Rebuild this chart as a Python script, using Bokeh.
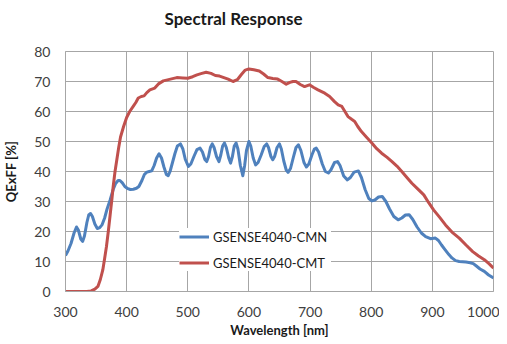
from bokeh.plotting import figure
from bokeh.models import Range1d, FixedTicker, Legend, LegendItem, Title
from bokeh.embed import file_html
from bokeh.resources import INLINE

# ---- data ----
cmn_nm = [300, 304, 309, 314, 318, 321, 325, 328, 331, 335, 338, 341, 344, 348, 352, 356, 360, 364, 368, 373,
          378, 382, 386, 389, 393, 397, 401, 406, 411, 416, 420, 425, 429, 433, 437, 441, 445, 449, 453, 457,
          461, 465, 468, 471, 475, 479, 483, 488, 492, 496, 501, 505, 510, 515, 520, 524, 528, 531, 534, 537,
          540, 543, 547, 551, 554, 557, 560, 563, 567, 570, 573, 576, 579, 582, 586, 590, 593, 596, 600, 603,
          607, 611, 615, 620, 625, 629, 632, 636, 639, 642, 646, 650, 653, 657, 661, 664, 668, 673, 677, 681,
          685, 690, 694, 698, 703, 707, 710, 714, 720, 725, 730, 734, 740, 745, 749, 755, 761, 766, 772, 779,
          784, 790, 796, 801, 806, 812, 818, 824, 830, 837, 844, 850, 856, 862, 868, 875, 882, 889, 897, 905,
          910, 915, 921, 927, 932, 938, 944, 955, 962, 967, 972, 978, 985, 992, 1000]
cmn_qe = [12, 13.5, 16, 19.5, 21.5, 20.5, 17.5, 16.7, 18.5, 23, 25.5, 26, 25, 22.5, 21, 21.3, 22.3, 24.5, 27.5, 30.5,
          34, 36, 37, 37, 36.2, 35, 34.4, 34, 34.1, 34.4, 35, 37, 39, 39.8, 40, 40.2, 42, 44.5, 45.9, 44.5,
          41.5, 39, 38.6, 40, 43, 46, 48.5, 49.2, 47.5, 44, 41.7, 42.5, 45, 47.3, 47.8, 46.5, 44, 43.3, 45, 48,
          49.2, 48, 45, 43.3, 45.5, 48.5, 49.5, 48, 44.5, 42.8, 45, 48.5, 49.5, 47.5, 42, 38.6, 42, 47, 50, 48.5,
          44.5, 42.2, 43, 45.5, 48.3, 49.2, 48, 45, 43.9, 45, 48, 49.2, 47.5, 43.5, 40.5, 39.7, 41, 45, 48, 48.9,
          47, 43, 41.5, 42.5, 45.5, 47.5, 47.8, 46.5, 42.5, 40, 39.5, 40.5, 43, 43.3, 42, 38.5, 37.2, 38, 39.8, 40.2,
          38, 34, 31, 30.2, 30.5, 31.5, 31.7, 30, 27.5, 25, 23.9, 24.5, 25.5, 25.6, 24, 21.5, 19.5, 18.3, 17.6, 17.8,
          17, 15.5, 13.9, 12.3, 11.2, 10.3, 10, 9.8, 9.6, 9.3, 8.5, 7.5, 6.7, 5.5, 4.5]

cmt_nm = [300, 320, 335, 342, 348, 353, 357, 361, 364, 367, 370, 373, 376, 378, 381, 384, 387, 390, 395, 400,
          405, 411, 415, 419, 424, 428.5, 433, 438, 446, 452, 460, 470, 482, 492, 500, 508, 515, 523, 530, 538,
          545, 552, 559, 566, 574, 581, 588, 594, 600, 608, 617, 624, 631, 639, 647, 654, 661, 667, 672, 677,
          684, 691, 699, 706, 713, 724, 732, 740, 746, 752, 757, 762, 768, 773, 778, 784, 792, 801, 809, 817,
          826, 834, 842, 850, 858, 866.5, 876, 886, 894, 902, 912, 921.5, 932, 944, 955, 966, 975, 985, 993, 1000]
cmt_qe = [0, 0, 0, 0.2, 0.8, 1.7, 4, 7.2, 11, 15, 20, 25.5, 31, 35, 40, 44, 48, 51.5, 55, 58,
          60, 61.8, 63, 64.5, 65, 65.2, 66.3, 67.2, 67.8, 69.2, 70.2, 70.7, 71.3, 71.2, 71.1, 71.6, 72.2, 72.7, 73.1, 72.7,
          72, 71.8, 71.3, 70.8, 70, 70.6, 72.4, 73.8, 74.2, 73.9, 73.5, 72.5, 71.3, 71, 70.8, 70, 69.1, 69.7, 70, 70,
          69, 68.3, 68.9, 68, 67.2, 66.1, 65, 63.3, 62.2, 61.7, 60, 58.3, 57.4, 56.7, 55, 53.3, 51.5, 49.5, 47.6, 46.1,
          44.7, 43.3, 41.8, 40, 38.1, 36.1, 34.2, 32.2, 29.6, 27.2, 24.7, 22.2, 19.8, 17.8, 15.5, 13.3, 11.9, 10.6, 9.2, 7.8]

x_ticks = [300, 400, 500, 600, 700, 800, 900, 1000]
y_ticks = [0, 10, 20, 30, 40, 50, 60, 70, 80]
series_names = ["GSENSE4040-CMN", "GSENSE4040-CMT"]

FONT = "Lato"
TXT = "#404040"
GRID = "#a6a6a6"

p = figure(frame_width=428, frame_height=240, output_backend="svg", toolbar_location=None,
           x_range=Range1d(300, 1000), y_range=Range1d(0, 80), title=None,
           min_border_left=57, min_border_right=6, min_border_top=43, min_border_bottom=45)

# spacer title (closest to frame) then the real title above it
p.add_layout(Title(text=" ", text_font_size="5px"), "above")
title = Title(text="Spectral Response", text_font=FONT, text_font_size="17px",
              text_font_style="bold", text_color="#1a1a1a", align="left", offset=99)
p.add_layout(title, "above")

for ax in (p.xaxis[0], p.yaxis[0]):
    ax.major_tick_line_color = None
    ax.minor_tick_line_color = None
    ax.axis_line_color = GRID
    ax.major_label_text_font = FONT
    ax.major_label_text_font_size = "14px"
    ax.major_label_text_color = TXT
    ax.axis_label_text_font = FONT
    ax.axis_label_text_font_size = "13px"
    ax.axis_label_text_font_style = "bold"
    ax.axis_label_text_color = "#1a1a1a"

p.xaxis.ticker = FixedTicker(ticks=x_ticks)
p.yaxis.ticker = FixedTicker(ticks=y_ticks)
p.xaxis.axis_label = "Wavelength [nm]"
p.yaxis.axis_label = "QExFF [%]"
p.xaxis.major_label_standoff = 9
p.xaxis.axis_label_standoff = 2
p.yaxis.major_label_standoff = 9
p.yaxis.axis_label_standoff = 12

p.xgrid.grid_line_color = GRID
p.ygrid.grid_line_color = GRID
p.outline_line_color = GRID

r1 = p.line(cmn_nm, cmn_qe, line_color="#4f81bd", line_width=3, line_join="round")
r2 = p.line(cmt_nm, cmt_qe, line_color="#c0504d", line_width=3, line_join="round")

legend = Legend(items=[LegendItem(label=series_names[0], renderers=[r1]),
                       LegendItem(label=series_names[1], renderers=[r2])],
                location=(114, 20), orientation="vertical")
legend.border_line_color = None
legend.background_fill_color = "white"
legend.background_fill_alpha = 1.0
legend.label_text_font = FONT
legend.label_text_font_size = "13px"
legend.label_text_color = "#1a1a1a"
legend.glyph_width = 30
legend.glyph_height = 17
legend.label_height = 17
legend.label_width = 118
legend.label_standoff = 4
legend.spacing = 9
legend.padding = 8
legend.margin = 0
p.add_layout(legend, "center")

open("out.html", "w").write(file_html(p, INLINE))
